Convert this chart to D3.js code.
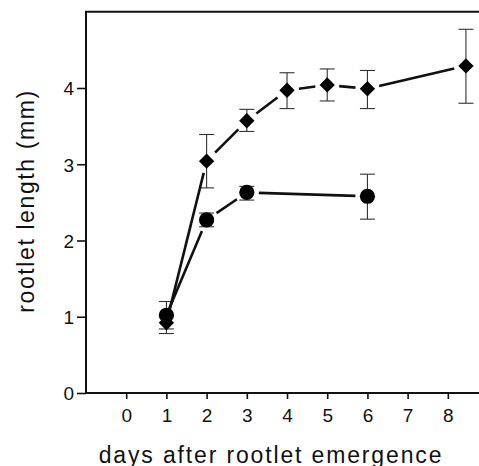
<!DOCTYPE html>
<html>
<head>
<meta charset="utf-8">
<script src="https://cdn.jsdelivr.net/npm/d3@7"></script>
<style>
  html, body { margin: 0; padding: 0; background: #fff; }
  svg { display: block; }
  text { font-family: "Liberation Sans", Arial, Helvetica, sans-serif; fill: #111; }
</style>
</head>
<body>
<svg id="chart" width="479" height="466"></svg>
<script>
// Rootlet length (mm) by day after rootlet emergence
const xTicks = [0, 1, 2, 3, 4, 5, 6, 7, 8];
const yTicks = [0, 1, 2, 3, 4];

// diamonds
const diamondDays  = [1, 2, 3, 4, 5, 6, 8.45];
const diamondMean  = [0.92, 3.04, 3.57, 3.97, 4.04, 3.99, 4.29];
const diamondLow   = [0.78, 2.69, 3.43, 3.73, 3.83, 3.73, 3.80];
const diamondHigh  = [1.02, 3.39, 3.72, 4.20, 4.25, 4.23, 4.77];

// circles
const circleDays   = [1, 2, 3, 6];
const circleMean   = [1.02, 2.27, 2.63, 2.58];
const circleLow    = [0.84, 2.18, 2.53, 2.28];
const circleHigh   = [1.20, 2.36, 2.71, 2.87];

const xTitle = "days after rootlet emergence";
const yTitle = "rootlet length (mm)";

const svg = d3.select("#chart");
const x = d3.scaleLinear().domain([-1, 8.8]).range([86, 480]);
const y = d3.scaleLinear().domain([0, 5]).range([393, 11.75]);

// frame: left, top, bottom
const frame = svg.append("g").attr("stroke", "#111").attr("stroke-width", 2).attr("fill", "none");
frame.append("line").attr("x1", x(-1)).attr("x2", x(-1)).attr("y1", y(5)).attr("y2", y(0));
frame.append("line").attr("x1", x(-1) - 1).attr("x2", 479).attr("y1", y(5)).attr("y2", y(5));
frame.append("line").attr("x1", x(-1)).attr("x2", 479).attr("y1", y(0)).attr("y2", y(0));

// y axis
const yAxis = d3.axisLeft(y).tickValues(yTicks).tickSize(9).tickPadding(3).tickFormat(d3.format("d"));
const gy = svg.append("g").attr("transform", `translate(${x(-1)},0)`).call(yAxis);
gy.select(".domain").remove();
gy.selectAll(".tick line").attr("stroke", "#111").attr("stroke-width", 1.6);
gy.selectAll(".tick text").attr("font-size", 19).attr("dy", "0.36em").attr("fill", "#111")
  .style("font-family", '"Liberation Sans", Arial, sans-serif');

// x axis
const xAxis = d3.axisBottom(x).tickValues(xTicks).tickSize(6).tickPadding(10).tickFormat(d3.format("d"));
const gx = svg.append("g").attr("transform", `translate(0,${y(0)})`).call(xAxis);
gx.select(".domain").remove();
gx.selectAll(".tick line").attr("stroke", "#111").attr("stroke-width", 1.6);
gx.selectAll(".tick text").attr("font-size", 19).attr("fill", "#111")
  .style("font-family", '"Liberation Sans", Arial, sans-serif');

// axis titles
svg.append("text")
  .attr("x", 271).attr("y", 462.5)
  .attr("text-anchor", "middle")
  .attr("font-size", 23).attr("letter-spacing", 1.85)
  .text(xTitle);
svg.append("text")
  .attr("transform", `translate(33.5,201) rotate(-90)`)
  .attr("text-anchor", "middle")
  .attr("font-size", 23).attr("letter-spacing", 1.6)
  .text(yTitle);

// error bars
function errorBars(days, low, high) {
  const g = svg.append("g").attr("stroke", "#333").attr("stroke-width", 1.1);
  days.forEach((d, i) => {
    const cx = x(d);
    g.append("line").attr("x1", cx).attr("x2", cx).attr("y1", y(low[i])).attr("y2", y(high[i]));
    g.append("line").attr("x1", cx - 7.5).attr("x2", cx + 7.5).attr("y1", y(low[i])).attr("y2", y(low[i]));
    g.append("line").attr("x1", cx - 7.5).attr("x2", cx + 7.5).attr("y1", y(high[i])).attr("y2", y(high[i]));
  });
}

// connecting segments, pulled back from each marker
function segments(days, mean) {
  const g = svg.append("g").attr("stroke", "#111").attr("stroke-width", 2.6).attr("stroke-linecap", "butt");
  for (let i = 0; i < days.length - 1; i++) {
    const x1 = x(days[i]), y1 = y(mean[i]);
    const x2 = x(days[i + 1]), y2 = y(mean[i + 1]);
    const len = Math.hypot(x2 - x1, y2 - y1);
    const ux = (x2 - x1) / len, uy = (y2 - y1) / len;
    const g0 = i === 0 ? 3 : 12, g1 = 12;
    g.append("line")
      .attr("x1", x1 + ux * g0).attr("y1", y1 + uy * g0)
      .attr("x2", x2 - ux * g1).attr("y2", y2 - uy * g1);
  }
}

errorBars(diamondDays, diamondLow, diamondHigh);
errorBars(circleDays, circleLow, circleHigh);
segments(diamondDays, diamondMean);
segments(circleDays, circleMean);

// markers
const diamond = d3.symbol().type(d3.symbolDiamond2).size(150);
svg.append("g").selectAll("path").data(diamondDays).join("path")
  .attr("d", diamond)
  .attr("transform", (d, i) => `translate(${x(d)},${y(diamondMean[i])}) rotate(0)`)
  .attr("fill", "#000");

svg.append("g").selectAll("circle").data(circleDays).join("circle")
  .attr("cx", d => x(d))
  .attr("cy", (d, i) => y(circleMean[i]))
  .attr("r", 7.6)
  .attr("fill", "#000");
</script>
</body>
</html>
